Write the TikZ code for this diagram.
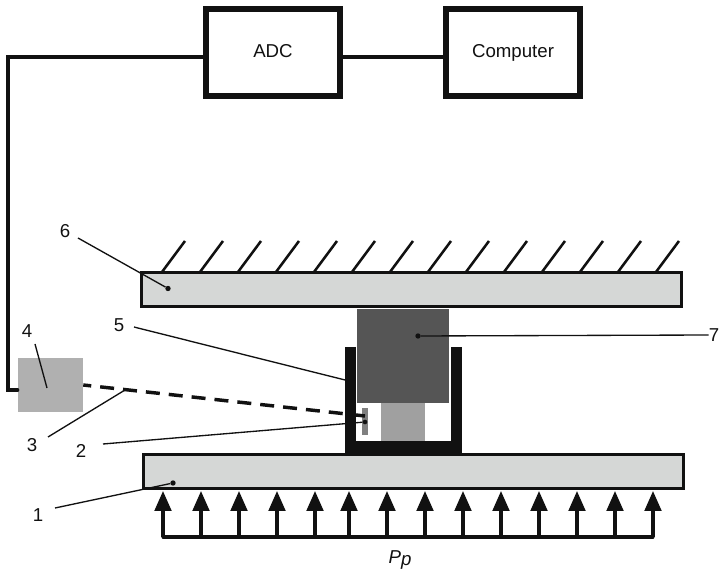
\documentclass[tikz,border=0pt]{standalone}
\usepackage{fontspec}
\setmainfont{Liberation Sans}
\usetikzlibrary{arrows.meta}

\definecolor{plategray}{HTML}{D5D7D6}
\definecolor{sourcegray}{HTML}{B0B0B0}
\definecolor{blockgray}{HTML}{555555}
\definecolor{spacergray}{HTML}{A0A0A0}
\definecolor{inkblack}{HTML}{111111}

\tikzset{
    instrument/.style={rectangle, draw=inkblack, line width=4.1pt, minimum width=100.5pt, minimum height=65.25pt, inner sep=0pt, text height=10pt, text depth=3pt},
    plate/.style={rectangle, draw=inkblack, fill=plategray, line width=2.6pt, minimum width=405pt, minimum height=25.5pt, inner sep=0pt},
    wire/.style={draw=inkblack, line width=2.3pt},
    leader/.style={draw=inkblack, line width=1pt},
    tag/.style={inner sep=0pt, text=inkblack, font=\fontsize{14pt}{16pt}\selectfont},
    dot/.style={circle, fill=inkblack, minimum size=4pt, inner sep=0pt},
}

\begin{document}
\begin{tikzpicture}[x=0.75pt, y=-0.75pt]
        \useasboundingbox (0,0) rectangle (722,570);

        \node[instrument, tag] (adc) at (273,52.5) {ADC};
        \node[instrument, tag] (computer) at (513,52.5) {Computer};
        \node[rectangle, fill=sourcegray, minimum width=48.75pt, minimum height=40.5pt, inner sep=0pt] (source) at (50.5,385.5) {};
        \coordinate (corner1) at (8,57);
        \coordinate (corner2) at (8,390);

        \path[wire] (adc.east |- 0,57) -- (computer.west |- 0,57);
        \path[wire, line cap=round] (adc.west |- 0,57) -- (corner1) -- (corner2) -- (source.west |- corner2);

        % plates
        \node[plate] (upper) at (411.5,289.5) {};
        \node[plate] (lower) at (413.5,471.5) {};

        % hatching above the upper plate
        \foreach \i in {0,...,13} {
            \coordinate (hatch\i) at (162+38*\i,272);
            \draw[wire, line width=1.9pt] (hatch\i) -- ++(23,-31);
        }

        % pressure arrows
        \coordinate (base0) at (163,537);
        \coordinate (base13) at (653,537);
        \draw[wire, line cap=round] (base0) -- (base13);
        \foreach \x in {163,201,239,277,315,349,387,425,463,501,539,577,615,653} {
            \coordinate (base) at (\x,537);
            \coordinate (tip) at (\x,491);
            \draw[wire, -{Triangle[width=12.5pt, length=15pt]}] (base) -- (tip);
        }

        % holder with block and sensor
        \draw[draw=inkblack, line width=8.6pt, line join=miter] (350.5,347) -- (350.5,447) -- (456.5,447) -- (456.5,347);
        \node[rectangle, fill=blockgray, minimum width=69pt, minimum height=70.5pt, inner sep=0pt] (block) at (403,356) {};
        \node[rectangle, fill=spacergray, minimum width=33pt, minimum height=28.5pt, inner sep=0pt] (spacer) at (403,422) {};
        \node[rectangle, fill=spacergray!80!black, minimum width=4.5pt, minimum height=20pt, inner sep=0pt] (sensor) at (365,421.5) {};
        \draw[wire, line width=2.6pt, dash pattern=on 10.5pt off 6.75pt, dash phase=4.5pt] (source.east |- 0,385) -- (sensor.center |- 0,416);

        % leaders and their labels
        \node[tag] (n6) at (65,231) {6};
        \node[dot] (d6) at (168,288.5) {};
        \path[leader] (n6) ++(13,7) -- (d6);

        \node[tag] (n5) at (119,325) {5};
        \coordinate (d5) at (345,380);
        \path[leader] (n5) ++(15,2) -- (d5);

        \node[tag] (n4) at (27,331) {4};
        \coordinate (d4) at (47,388);
        \path[leader] (n4) ++(8,13) -- (d4);

        \node[tag] (n3) at (32,445) {3};
        \coordinate (d3) at (125,390);
        \path[leader] (n3) ++(16,-8) -- (d3);

        \node[tag] (n2) at (81,451) {2};
        \node[dot, minimum size=3.5pt] (d2) at (365,422) {};
        \path[leader] (n2) ++(22,-7) -- (d2);

        \node[tag] (n1) at (38,515) {1};
        \node[dot] (d1) at (173,483) {};
        \path[leader] (n1) ++(17,-7) -- (d1);

        \node[tag] (n7) at (714,335) {7};
        \node[dot] (d7) at (418,336) {};
        \path[leader] (d7) -- (n7.west);

        \node[tag] (pp) at (400,560) {\itshape P\raisebox{-1.5pt}{p}};
    \end{tikzpicture}
\end{document}
